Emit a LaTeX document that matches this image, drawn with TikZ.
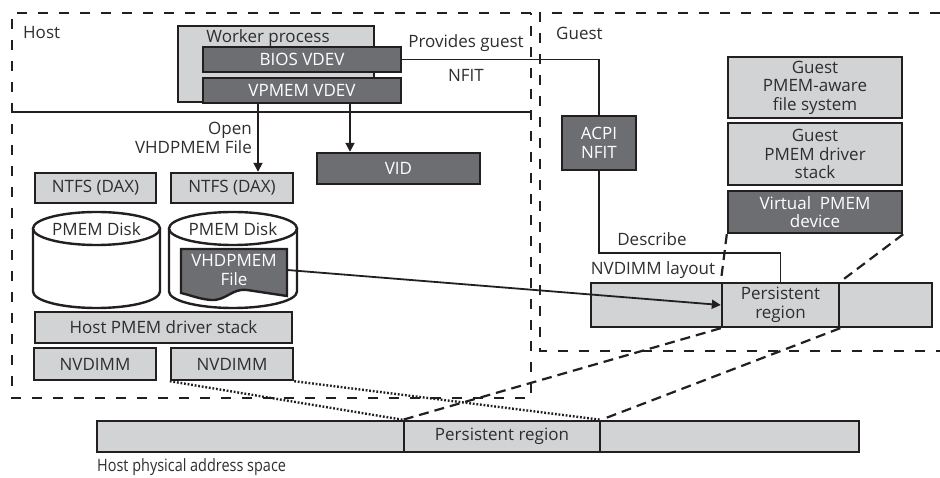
\documentclass[tikz,border=0pt]{standalone}
\usepackage{graphicx}
\usepackage{fontspec}
\setmainfont{Open Sans}
\usetikzlibrary{arrows.meta,fit}
\definecolor{lg}{HTML}{D1D3D4}
\definecolor{dg}{HTML}{6D6E71}
\definecolor{ink}{HTML}{231F20}
\definecolor{txt}{HTML}{2E2E2E}
\newcommand\myfs{\fontsize{17}{18.5}\selectfont}
\begin{document}
\begin{tikzpicture}[x=1pt,y=-1pt,
 every node/.style={font=\myfs, text=txt},
 every label/.style={font=\myfs, align=center},
 lbox/.style={draw=ink, line width=2.4pt, fill=lg, inner sep=0pt, align=center},
 dbox/.style={draw=ink, line width=2.4pt, fill=dg, inner sep=0pt, text=white, align=center},
 ghost/.style={inner sep=0pt, align=center},
 region/.style={draw=ink, dash pattern=on 10pt off 11pt, line width=2.4pt},
 conn/.style={draw=ink, line width=1.8pt},
 arr/.style={conn, -{Triangle[length=9pt,width=9pt]}},
 guide/.style={draw=ink, line width=2.2pt, dash pattern=on 10pt off 6pt},
 dots/.style={draw=ink, line width=2.4pt, dash pattern=on 1.8pt off 1.8pt},
 disk/.style={draw=ink, line width=2.4pt, fill=white},
]
\useasboundingbox (0,0) rectangle (940,478);

% regions
\draw[region] (531,13) -- (12,13) -- (12,398) -- (531,398) -- cycle;
\draw[region] (940,13) -- (540,13) -- (540,351) -- (940,351);
\draw[ink, line width=2.4pt] (12,112) -- (531,112);
\node[ghost, anchor=west] (hostl) at (23,33) {Host};
\node[ghost, anchor=west] (guestl) at (556,33) {Guest};

% worker process
\node[lbox, fit={(178,26) (374,102)}] (wp) {};
\node[ghost] (wpl) at (268,38) {Worker process};
\node[dbox, fit={(203,47) (401,72)}, label={[text=white]center:BIOS VDEV}] (bios) {};
\node[dbox, fit={(203,78) (401,103)}, label={[text=white]center:VPMEM VDEV}] (vpm) {};

% host stack
\node[dbox, fit={(317,153) (480,184)}, label={[text=white]center:VID}] (vid) {};
\node[lbox, fit={(35,173) (156,203)}, label={center:NTFS (DAX)}] (ntfs1) {};
\node[lbox, fit={(171,173) (293,203)}, label={center:NTFS (DAX)}] (ntfs2) {};

% disks
\draw[disk] (33,228.5) -- (33,291.5) arc[start angle=180, end angle=360, x radius=63.5pt, y radius=16.5pt] -- (160,228.5);
\draw[disk] (96.5,228.5) ellipse [x radius=63.5pt, y radius=16.5pt];
\node[ghost] (d1) at (96.5,229) {PMEM Disk};
\draw[disk] (169,228.5) -- (169,291.5) arc[start angle=180, end angle=360, x radius=64pt, y radius=16.5pt] -- (297,228.5);
\draw[disk] (233,228.5) ellipse [x radius=64pt, y radius=16.5pt];
\node[ghost] (d2) at (233,229) {PMEM Disk};
\draw[draw=ink, line width=2.4pt, fill=dg] (181,249) -- (287,249) -- (287,296) -- (247,290)
  .. controls (232,288) and (226,301) .. (211,300) .. controls (199,299) and (190,295) .. (181,293) -- cycle;
\node[ghost, fit={(181,249) (287,291)}, label={[text=white]center:VHDPMEM\\File}] (vf) {};

\node[lbox, fit={(35,312) (292,343)}, label={center:Host PMEM driver stack}] (hds) {};
\node[lbox, fit={(34,348) (156,380)}, label={center:NVDIMM}] (nv1) {};
\node[lbox, fit={(171,348) (293,380)}, label={center:NVDIMM}] (nv2) {};

% host physical address space
\node[lbox, fit={(97,421) (404,452)}] (hl) {};
\node[lbox, fit={(404,421) (600,452)}, label={center:Persistent region}] (hpr) {};
\node[lbox, fit={(600,421) (859,452)}] (hr) {};
\node[ghost, anchor=west] (hpas) at (97,467) {\scalebox{0.85}[1]{Host physical address space}};

% guest
\node[dbox, fit={(562,116) (636,170)}, label={[text=white]center:ACPI\\NFIT}] (acpi) {};
\node[lbox, fit={(728,57) (902,118)}, label={center:Guest\\PMEM-aware\\file system}] (gfs) {};
\node[lbox, fit={(728,123) (902,185)}, label={center:Guest\\PMEM driver\\stack}] (gds) {};
\node[dbox, fit={(728,191) (902,233)}, label={[text=white]center:Virtual~ PMEM\\device}] (vpd) {};

\node[lbox, fit={(591,283) (722,327)}] (gl) {};
\node[lbox, fit={(722,283) (839,327)}, label={center:Persistent\\region}] (gpr) {};
\node[lbox, fit={(839,283) (932,327)}] (gr) {};

% connectors
\draw[conn] (bios.east) -| (acpi.north);
\node[ghost] (pg) at (466,43) {Provides guest};
\node[ghost] (nf) at (466,75) {NFIT};
\coordinate (dc) at (780.5,253);
\draw[conn] (acpi.south) |- (dc) -- (gpr.north);
\node[ghost] (desc) at (652,239) {Describe};
\node[ghost] (nlay) at (653,270) {NVDIMM layout};

\coordinate (o1) at (258,103);
\coordinate (o2) at (350,103);
\draw[arr] (o1) -- (o1 |- ntfs2.north);
\draw[arr] (o2) -- (o2 |- vid.north);
\node[ghost, align=right, anchor=east] (openl) at (252,138) {Open\\VHDPMEM File};

\draw[arr] (vf.east) -- (gpr.west);

\draw[guide] (vpd.south west) -- (gpr.north west);
\draw[guide] (vpd.south east) -- (gpr.north east);
\draw[guide] (gpr.south west) -- (hpr.north west);
\draw[guide] (gpr.south east) -- (hpr.north east);
\draw[dots] (nv2.south west) -- (hpr.north west);
\draw[dots] (nv2.south east) -- (hpr.north east);
\end{tikzpicture}
\end{document}
